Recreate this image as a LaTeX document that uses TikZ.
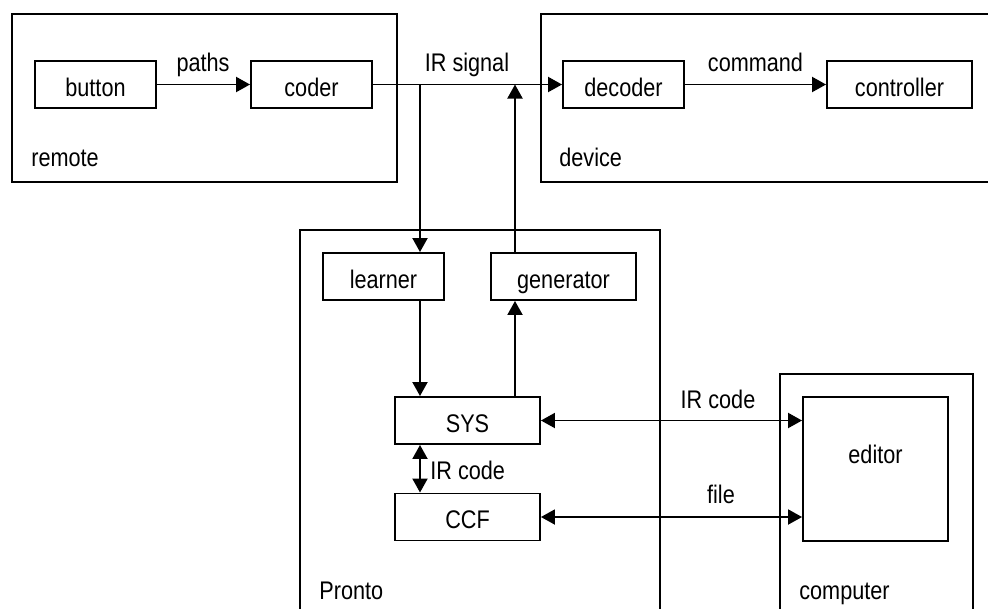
\documentclass[tikz,border=0pt]{standalone}
\usepackage{fontspec}
\setmainfont{Liberation Sans}[FakeStretch=0.85]
\usetikzlibrary{arrows.meta}
\begin{document}
\begin{tikzpicture}[x=0.02cm,y=-0.02cm,
  every node/.style={font=\fontsize{14.5pt}{16pt}\selectfont},
  box/.style={draw, line width=1.1pt, inner sep=0pt, minimum height=0.94cm, text height=0.47cm, text depth=0pt},
  grp/.style={draw, line width=1.1pt, inner sep=0pt, anchor=north west},
  lbl/.style={inner sep=0pt, anchor=base},
  conn/.style={line width=1.1pt, -{Triangle[length=0.28cm,width=0.30cm]}},
  both/.style={line width=1.1pt, {Triangle[length=0.28cm,width=0.30cm]}-{Triangle[length=0.28cm,width=0.30cm]}}]
\useasboundingbox (0,0) rectangle (988,609);
\clip (0,0) rectangle (988,609);
\fill[white] (0,0) rectangle (988,609);
% groups
\node[grp, minimum width=7.7cm, minimum height=3.36cm] (remote) at (11,13) {};
\node[grp, minimum width=9.2cm, minimum height=3.36cm] (device) at (540,13) {};
\node[grp, minimum width=7.2cm, minimum height=7.82cm] (pronto) at (299,229) {};
\node[grp, minimum width=3.86cm, minimum height=4.94cm] (computer) at (779,373) {};
% boxes
\node[box, minimum width=2.42cm] (button) at (95.5,84.5) {button};
\node[box, minimum width=2.42cm] (coder) at (311.5,84.5) {coder};
\node[box, minimum width=2.42cm] (decoder) at (623.5,84.5) {decoder};
\node[box, minimum width=2.9cm] (controller) at (899.5,84.5) {controller};
\node[box, minimum width=2.42cm] (learner) at (383.5,276.5) {learner};
\node[box, minimum width=2.9cm] (generator) at (563.5,276.5) {generator};
\node[box, minimum width=2.9cm] (sys) at (467.5,420.5) {SYS};
\node[box, minimum width=2.9cm] (ccf) at (467.5,517) {CCF};
\node[draw, line width=1.1pt, inner sep=0pt, minimum width=2.9cm, minimum height=2.88cm, text height=0.4cm, text depth=0.64cm] (editor) at (875.5,469) {editor};
% labels
\node[lbl] (lpaths) at (203,71) {paths};
\node[lbl] (lirsig) at (467,71) {IR signal};
\node[lbl] (lcmd) at (755.5,71) {command};
\node[lbl, anchor=base west] (lremote) at (31,166) {remote};
\node[lbl, anchor=base west] (ldevice) at (559,166) {device};
\node[lbl, anchor=base west] (lpronto) at (319,599) {Pronto};
\node[lbl, anchor=base west] (lcomputer) at (799,599) {computer};
\node[lbl, anchor=base west] (lircode1) at (430,479) {IR code};
\node[lbl] (lircode2) at (718,408) {IR code};
\node[lbl] (lfile) at (721,503) {file};
% connectors
\coordinate (tapL) at (420,84.5);
\coordinate (tapG) at (515,84.5);
\draw[conn] (button) -- (coder);
\draw[conn] (coder) -- (decoder);
\draw[conn] (decoder) -- (controller);
\draw[conn] (tapL) -- (tapL |- learner.north);
\draw[conn] (tapG |- generator.north) -- (tapG);
\draw[conn] (tapL |- learner.south) -- (tapL |- sys.north);
\draw[conn] (tapG |- sys.north) -- (tapG |- generator.south);
\draw[both] (tapL |- sys.south) -- (tapL |- ccf.north);
\draw[both] (sys.east) -- (sys.east -| editor.west);
\draw[both] (ccf.east) -- (ccf.east -| editor.west);
\end{tikzpicture}
\end{document}
